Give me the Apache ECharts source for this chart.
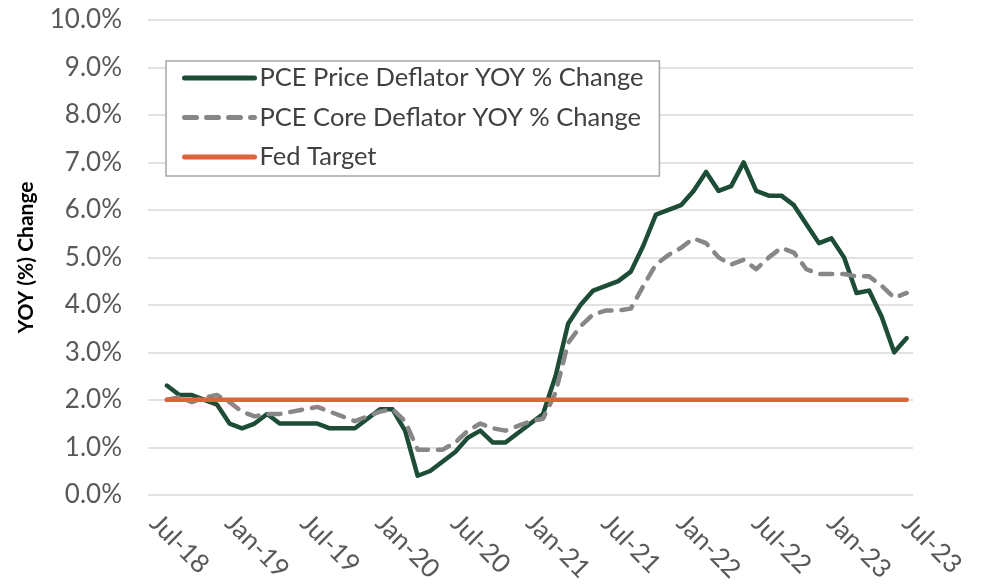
<!DOCTYPE html>
<html>
<head>
<meta charset="utf-8">
<title>PCE Deflator YOY</title>
<script src="https://cdn.jsdelivr.net/npm/echarts@6/dist/echarts.min.js"></script>
<style>
  html, body { margin: 0; padding: 0; background: #fff; }
  #chart { width: 981px; height: 585px; }
</style>
</head>
<body>
<div id="chart"></div>
<script>
// months on the axis, Jul-18 .. Jul-23
const months = [
  'Jul-18', 'Aug-18', 'Sep-18', 'Oct-18', 'Nov-18', 'Dec-18',
  'Jan-19', 'Feb-19', 'Mar-19', 'Apr-19', 'May-19', 'Jun-19',
  'Jul-19', 'Aug-19', 'Sep-19', 'Oct-19', 'Nov-19', 'Dec-19',
  'Jan-20', 'Feb-20', 'Mar-20', 'Apr-20', 'May-20', 'Jun-20',
  'Jul-20', 'Aug-20', 'Sep-20', 'Oct-20', 'Nov-20', 'Dec-20',
  'Jan-21', 'Feb-21', 'Mar-21', 'Apr-21', 'May-21', 'Jun-21',
  'Jul-21', 'Aug-21', 'Sep-21', 'Oct-21', 'Nov-21', 'Dec-21',
  'Jan-22', 'Feb-22', 'Mar-22', 'Apr-22', 'May-22', 'Jun-22',
  'Jul-22', 'Aug-22', 'Sep-22', 'Oct-22', 'Nov-22', 'Dec-22',
  'Jan-23', 'Feb-23', 'Mar-23', 'Apr-23', 'May-23', 'Jun-23',
  'Jul-23'
];

// PCE price deflator YOY %, first month has no value
const pceHeadline = [
  '-', 2.3, 2.1, 2.1, 2.0, 1.9,
  1.5, 1.4, 1.5, 1.7, 1.5, 1.5,
  1.5, 1.5, 1.4, 1.4, 1.4, 1.6,
  1.8, 1.8, 1.35, 0.4, 0.5, 0.7,
  0.9, 1.2, 1.35, 1.1, 1.1, 1.3,
  1.5, 1.7, 2.5, 3.6, 4.0, 4.3,
  4.4, 4.5, 4.7, 5.25, 5.9, 6.0,
  6.1, 6.4, 6.8, 6.4, 6.5, 7.0,
  6.4, 6.3, 6.3, 6.1, 5.7, 5.3,
  5.4, 5.0, 4.25, 4.3, 3.75, 3.0,
  3.3
];

// PCE core deflator YOY %
const pceCore = [
  '-', 2.0, 2.05, 1.95, 2.05, 2.1,
  1.95, 1.75, 1.65, 1.7, 1.7, 1.75,
  1.8, 1.85, 1.75, 1.65, 1.55, 1.65,
  1.75, 1.8, 1.55, 0.95, 0.95, 0.95,
  1.1, 1.35, 1.5, 1.4, 1.35, 1.45,
  1.55, 1.6, 2.15, 3.2, 3.55, 3.8,
  3.88, 3.88, 3.92, 4.4, 4.85, 5.05,
  5.2, 5.4, 5.3, 5.0, 4.85, 4.95,
  4.75, 5.0, 5.2, 5.1, 4.75, 4.65,
  4.65, 4.65, 4.6, 4.6, 4.4, 4.15,
  4.25
];

// Fed target, 2%
const fedTarget = [
  '-', 2, 2, 2, 2, 2,
  2, 2, 2, 2, 2, 2,
  2, 2, 2, 2, 2, 2,
  2, 2, 2, 2, 2, 2,
  2, 2, 2, 2, 2, 2,
  2, 2, 2, 2, 2, 2,
  2, 2, 2, 2, 2, 2,
  2, 2, 2, 2, 2, 2,
  2, 2, 2, 2, 2, 2,
  2, 2, 2, 2, 2, 2,
  2
];

const font = 'Lato';
const chart = echarts.init(document.getElementById('chart'));

const option = {
  animation: false,
  grid: {
    left: 148,
    right: 68,
    top: 20,
    bottom: 90
  },
  legend: {
    orient: 'vertical',
    left: 166,
    top: 61,
    padding: [4, 16, 6, 16],
    backgroundColor: '#fff',
    borderColor: '#a6a6a6',
    borderWidth: 1.5,
    itemWidth: 70,
    // tiny height keeps the legend symbol hidden under the line
    itemHeight: 2,
    itemGap: 13.5,
    itemStyle: { opacity: 0 },
    lineStyle: { width: 5 },
    textStyle: {
      fontFamily: font,
      fontSize: 25.5,
      lineHeight: 25,
      color: '#404040'
    },
    data: [
      'PCE Price Deflator YOY % Change',
      'PCE Core Deflator YOY % Change',
      'Fed Target'
    ]
  },
  xAxis: {
    type: 'category',
    data: months,
    boundaryGap: true,
    axisLine: { show: false },
    axisTick: { show: false },
    axisLabel: {
      interval: 5,
      rotate: -45,
      margin: 24,
      fontFamily: font,
      fontSize: 26,
      color: '#595959'
    }
  },
  yAxis: {
    type: 'value',
    min: 0,
    max: 10,
    interval: 1,
    name: 'YOY (%) Change',
    nameLocation: 'middle',
    nameRotate: 90,
    nameGap: 111,
    nameTextStyle: {
      fontFamily: font,
      fontSize: 21,
      fontWeight: 'bold',
      color: '#000'
    },
    axisLabel: {
      margin: 26,
      fontFamily: font,
      fontSize: 26,
      color: '#595959',
      formatter: function (v) {
        return v.toFixed(1) + '%';
      }
    },
    splitLine: {
      lineStyle: { color: '#d9d9d9', width: 1.5 }
    }
  },
  series: [
    {
      name: 'PCE Price Deflator YOY % Change',
      type: 'line',
      data: pceHeadline,
      symbol: 'none',
      color: '#1e4d37',
      lineStyle: { color: '#1e4d37', width: 4.5, cap: 'round', join: 'round' }
    },
    {
      name: 'PCE Core Deflator YOY % Change',
      type: 'line',
      data: pceCore,
      symbol: 'none',
      color: '#878787',
      lineStyle: { color: '#878787', width: 4.5, type: [12, 10], cap: 'round', join: 'round' }
    },
    {
      name: 'Fed Target',
      type: 'line',
      data: fedTarget,
      symbol: 'none',
      color: '#df6339',
      lineStyle: { color: '#df6339', width: 4.5, cap: 'round' }
    }
  ]
};

chart.setOption(option);
</script>
</body>
</html>
